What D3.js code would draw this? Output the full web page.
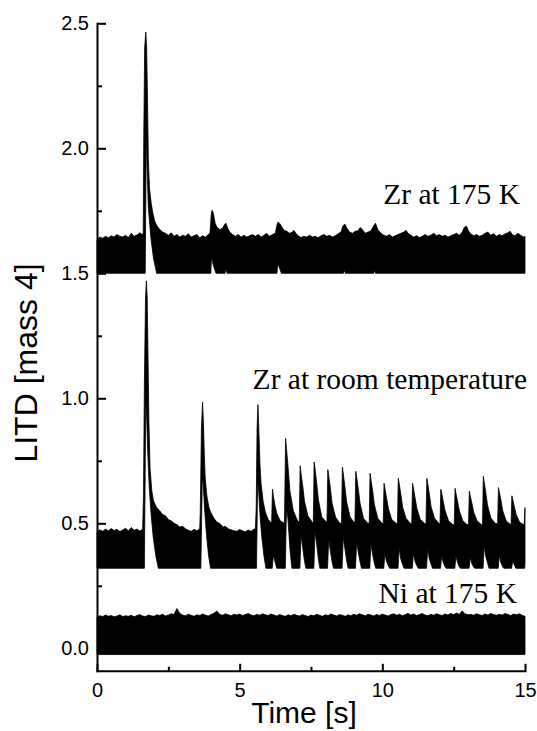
<!DOCTYPE html>
<html>
<head>
<meta charset="utf-8">
<script src="https://cdn.jsdelivr.net/npm/d3@7"></script>
<style>
  html, body { margin: 0; padding: 0; background: #fff; }
  svg { display: block; }
</style>
</head>
<body>
<svg id="chart" width="537" height="731"></svg>
<script>
// LITD signal at mass 4 versus time for three samples.
// Each trace is a dense, noisy signal; it is stored as the upper and lower edge
// of its noise band, as [time (s), signal] pairs.

// Zr at 175 K (offset by 1.5)
const zrColdTop = [
  [0,1.635],[0.1,1.645],[0.2,1.64],[0.3,1.648],[0.4,1.642],[0.5,1.65],[0.6,1.645],[0.7,1.655],[0.8,1.648],[0.9,1.645],
  [1.0,1.652],[1.1,1.643],[1.2,1.66],[1.3,1.648],[1.4,1.653],[1.5,1.662],[1.58,1.655],
  [1.62,1.66],[1.64,2.05],[1.67,2.4],[1.71,2.465],[1.74,2.40],[1.77,2.2],[1.80,1.95],[1.84,1.84],[1.90,1.78],
  [1.96,1.74],[2.02,1.71],[2.1,1.69],[2.2,1.675],[2.3,1.665],[2.4,1.66],[2.5,1.652],[2.6,1.662],[2.7,1.648],
  [2.8,1.655],[2.9,1.645],[3.0,1.652],[3.1,1.648],[3.2,1.658],[3.3,1.645],[3.4,1.65],[3.5,1.655],[3.6,1.642],
  [3.7,1.65],[3.8,1.645],[3.9,1.655],[3.96,1.66],
  [4.0,1.73],[4.03,1.752],[4.08,1.74],[4.14,1.70],[4.2,1.685],[4.3,1.675],[4.4,1.68],[4.47,1.695],[4.52,1.70],
  [4.58,1.68],[4.65,1.665],[4.75,1.655],[4.85,1.648],[4.95,1.655],[5.05,1.645],[5.15,1.652],[5.25,1.645],
  [5.35,1.65],[5.45,1.655],[5.55,1.648],[5.65,1.655],[5.75,1.645],[5.85,1.652],[5.95,1.66],[6.05,1.648],
  [6.15,1.655],[6.25,1.66],[6.3,1.69],[6.34,1.705],[6.4,1.70],[6.48,1.685],[6.56,1.672],[6.65,1.668],
  [6.75,1.66],[6.85,1.665],[6.9,1.672],[6.97,1.66],[7.05,1.65],[7.15,1.643],[7.25,1.648],[7.35,1.645],
  [7.45,1.652],[7.55,1.645],[7.65,1.648],[7.75,1.642],[7.85,1.65],[7.95,1.655],[8.05,1.648],[8.15,1.652],
  [8.25,1.645],[8.35,1.65],[8.45,1.658],[8.55,1.665],[8.62,1.69],[8.69,1.696],[8.76,1.68],[8.85,1.665],
  [8.95,1.66],[9.05,1.668],[9.15,1.67],[9.22,1.683],[9.3,1.675],[9.4,1.66],[9.5,1.665],[9.6,1.67],
  [9.7,1.69],[9.76,1.70],[9.84,1.675],[9.95,1.66],[10.05,1.652],[10.15,1.648],[10.25,1.655],[10.35,1.645],
  [10.45,1.65],[10.55,1.655],[10.65,1.66],[10.75,1.665],[10.83,1.672],[10.9,1.66],[11.0,1.652],[11.1,1.645],
  [11.2,1.65],[11.3,1.643],[11.4,1.648],[11.5,1.655],[11.6,1.648],[11.7,1.652],[11.8,1.66],[11.9,1.65],
  [12.0,1.655],[12.1,1.648],[12.2,1.652],[12.3,1.645],[12.4,1.65],[12.5,1.655],[12.6,1.66],[12.7,1.652],
  [12.8,1.665],[12.88,1.685],[12.95,1.688],[13.02,1.67],[13.1,1.658],[13.2,1.65],[13.3,1.655],[13.4,1.648],
  [13.5,1.652],[13.6,1.66],[13.7,1.665],[13.8,1.652],[13.9,1.658],[14.0,1.648],[14.1,1.655],[14.2,1.65],
  [14.3,1.658],[14.4,1.662],[14.48,1.668],[14.55,1.655],[14.65,1.65],[14.75,1.66],[14.85,1.652],[14.95,1.645],
  [15.0,1.648]
];
const zrColdBottom = [
  [0,1.5],[1.69,1.5],[1.73,2.1],[1.75,1.95],[1.80,1.76],[1.89,1.64],[1.98,1.56],[2.09,1.5],
  [3.99,1.5],[4.01,1.565],[4.08,1.53],[4.17,1.5],[4.49,1.5],[4.51,1.52],[4.56,1.5],
  [6.31,1.5],[6.33,1.54],[6.40,1.52],[6.46,1.5],[8.64,1.5],[8.66,1.515],[8.70,1.5],
  [9.70,1.5],[9.72,1.512],[9.76,1.5],[15,1.5]
];

// Zr at room temperature (offset by 0.3)
const zrRoomTop = [
  [0,0.465],[0.1,0.474],[0.2,0.468],[0.3,0.477],[0.4,0.47],[0.5,0.479],[0.6,0.471],[0.7,0.476],[0.8,0.467],
  [0.9,0.473],[1.0,0.48],[1.1,0.47],[1.2,0.483],[1.3,0.472],[1.4,0.477],[1.5,0.469],[1.6,0.476],
  [1.63,0.62],[1.66,1.05],[1.70,1.40],[1.73,1.47],[1.76,1.40],[1.79,1.15],[1.82,0.90],[1.86,0.72],[1.92,0.63],
  [1.98,0.59],[2.08,0.565],[2.2,0.55],[2.3,0.535],[2.4,0.53],[2.5,0.515],[2.6,0.51],[2.7,0.50],[2.8,0.495],
  [2.9,0.485],[3.0,0.488],[3.1,0.478],[3.2,0.472],[3.3,0.468],[3.4,0.476],[3.5,0.47],[3.6,0.477],
  [3.62,0.55],[3.66,0.88],[3.70,0.985],[3.73,0.90],[3.76,0.78],[3.79,0.685],[3.85,0.61],[3.92,0.565],
  [3.98,0.545],[4.1,0.52],[4.2,0.505],[4.3,0.50],[4.42,0.485],[4.5,0.488],[4.6,0.478],[4.7,0.474],[4.8,0.47],
  [4.9,0.468],[5.0,0.475],[5.1,0.47],[5.2,0.466],[5.3,0.473],[5.4,0.468],[5.5,0.476],[5.55,0.478],
  [5.58,0.56],[5.61,0.88],[5.64,0.975],[5.67,0.88],[5.71,0.74],[5.75,0.66],[5.82,0.59],[5.9,0.545],
  [6.0,0.515],[6.12,0.50],
  [6.15,0.636],[6.18,0.61],[6.24,0.57],[6.30,0.54],[6.42,0.51],[6.57,0.50],
  [6.61,0.84],[6.64,0.80],[6.70,0.72],[6.76,0.63],[6.88,0.55],[7.03,0.51],[7.09,0.505],
  [7.12,0.73],[7.15,0.70],[7.21,0.65],[7.27,0.59],[7.39,0.53],[7.54,0.505],[7.58,0.50],
  [7.61,0.745],[7.64,0.72],[7.70,0.66],[7.76,0.593],[7.88,0.525],[8.03,0.506],[8.06,0.505],
  [8.09,0.715],[8.12,0.69],[8.18,0.64],[8.24,0.58],[8.36,0.525],[8.51,0.50],[8.57,0.502],
  [8.60,0.725],[8.63,0.70],[8.69,0.645],[8.75,0.585],[8.87,0.525],[9.0,0.505],[9.04,0.503],
  [9.07,0.708],[9.10,0.685],[9.16,0.635],[9.22,0.58],[9.34,0.52],[9.49,0.50],[9.54,0.50],
  [9.57,0.70],[9.60,0.675],[9.66,0.63],[9.72,0.575],[9.84,0.52],[9.99,0.50],[10.03,0.498],
  [10.06,0.66],[10.09,0.64],[10.15,0.60],[10.21,0.56],[10.33,0.515],[10.48,0.50],[10.53,0.498],
  [10.56,0.68],[10.59,0.66],[10.65,0.615],[10.71,0.565],[10.83,0.52],[10.98,0.50],[11.03,0.498],
  [11.06,0.66],[11.09,0.64],[11.15,0.60],[11.21,0.56],[11.33,0.515],[11.48,0.50],[11.53,0.497],
  [11.56,0.68],[11.59,0.66],[11.65,0.615],[11.71,0.565],[11.83,0.52],[11.98,0.50],[12.02,0.497],
  [12.05,0.636],[12.08,0.62],[12.14,0.585],[12.20,0.55],[12.32,0.51],[12.47,0.495],[12.52,0.494],
  [12.55,0.64],[12.58,0.62],[12.64,0.585],[12.70,0.55],[12.82,0.51],[12.97,0.495],[13.02,0.494],
  [13.05,0.628],[13.08,0.61],[13.14,0.58],[13.20,0.545],[13.32,0.51],[13.47,0.495],[13.51,0.494],
  [13.54,0.688],[13.57,0.665],[13.63,0.62],[13.69,0.57],[13.81,0.52],[13.96,0.50],[14.04,0.497],
  [14.07,0.643],[14.10,0.625],[14.16,0.59],[14.22,0.55],[14.34,0.51],[14.49,0.495],[14.51,0.494],
  [14.54,0.61],[14.57,0.595],[14.63,0.565],[14.69,0.535],[14.81,0.505],[14.94,0.495],[14.97,0.495],
  [15.0,0.563]
];
const zrRoomBottom = [
  [0,0.32],[1.66,0.32],[1.71,0.99],[1.74,0.93],[1.78,0.78],[1.83,0.645],[1.90,0.53],[1.97,0.445],[2.06,0.37],[2.15,0.32],
  [3.64,0.32],[3.69,0.68],[3.72,0.66],[3.78,0.54],[3.84,0.45],[3.91,0.37],[3.98,0.32],
  [5.59,0.32],[5.63,0.66],[5.66,0.64],[5.72,0.52],[5.78,0.44],[5.85,0.37],[5.92,0.32],
  [6.14,0.32],[6.18,0.37],[6.23,0.35],[6.30,0.32],
  [6.60,0.32],[6.64,0.56],[6.69,0.52],[6.76,0.40],[6.83,0.32],
  [7.11,0.32],[7.15,0.45],[7.20,0.41],[7.27,0.35],[7.32,0.32],
  [7.60,0.32],[7.64,0.465],[7.69,0.425],[7.76,0.355],[7.81,0.32],
  [8.08,0.32],[8.12,0.435],[8.17,0.395],[8.24,0.345],[8.29,0.32],
  [8.59,0.32],[8.63,0.445],[8.68,0.405],[8.75,0.35],[8.80,0.32],
  [9.06,0.32],[9.10,0.428],[9.15,0.388],[9.22,0.345],[9.27,0.32],
  [9.56,0.32],[9.60,0.42],[9.65,0.38],[9.72,0.34],[9.77,0.32],
  [10.05,0.32],[10.09,0.38],[10.14,0.35],[10.21,0.33],[10.26,0.32],
  [10.55,0.32],[10.59,0.40],[10.64,0.36],[10.71,0.335],[10.76,0.32],
  [11.05,0.32],[11.09,0.38],[11.14,0.35],[11.21,0.33],[11.26,0.32],
  [11.55,0.32],[11.59,0.40],[11.64,0.36],[11.71,0.335],[11.76,0.32],
  [12.04,0.32],[12.08,0.37],[12.13,0.345],[12.20,0.325],[12.24,0.32],
  [12.54,0.32],[12.58,0.37],[12.63,0.345],[12.70,0.325],[12.74,0.32],
  [13.04,0.32],[13.08,0.365],[13.13,0.34],[13.20,0.325],[13.24,0.32],
  [13.53,0.32],[13.57,0.41],[13.62,0.37],[13.69,0.34],[13.74,0.32],
  [14.06,0.32],[14.10,0.37],[14.15,0.345],[14.22,0.325],[14.26,0.32],
  [14.53,0.32],[14.57,0.35],[14.62,0.335],[14.68,0.32],
  [14.99,0.32],[15.0,0.34]
];

// Ni at 175 K: upper edge sampled every 0.1 s from 0 to 15 s, flat lower edge
const niStep = 0.1;
const niTopValues = [
  0.125,0.130,0.127,0.133,0.128,0.131,0.126,0.129,0.134,0.127,0.130,
  0.128,0.132,0.126,0.131,0.135,0.129,0.127,0.133,0.130,0.128,
  0.134,0.131,0.136,0.129,0.133,0.138,0.135,0.159,0.140,0.133,
  0.130,0.136,0.132,0.128,0.134,0.131,0.137,0.133,0.129,0.135,
  0.140,0.149,0.136,0.132,0.138,0.134,0.130,0.136,0.133,0.137,
  0.131,0.135,0.139,0.133,0.130,0.136,0.132,0.138,0.134,0.131,
  0.137,0.133,0.129,0.135,0.131,0.128,0.134,0.130,0.136,0.132,
  0.129,0.135,0.131,0.127,0.133,0.130,0.136,0.132,0.128,0.134,
  0.131,0.137,0.133,0.129,0.135,0.132,0.128,0.134,0.130,0.136,
  0.132,0.138,0.134,0.130,0.136,0.133,0.129,0.135,0.131,0.137,
  0.133,0.129,0.135,0.138,0.132,0.136,0.130,0.134,0.140,0.133,
  0.137,0.131,0.135,0.139,0.133,0.130,0.136,0.132,0.138,0.134,
  0.131,0.137,0.133,0.139,0.135,0.141,0.136,0.149,0.138,0.134,
  0.136,0.132,0.138,0.134,0.131,0.137,0.133,0.139,0.135,0.132,
  0.136,0.133,0.139,0.135,0.131,0.137,0.134,0.138,0.132,0.128
];
const niBottom = [[0,-0.025],[15,-0.025]];

const traceLabels = ["Zr at 175 K", "Zr at room temperature", "Ni at 175 K"];
const xMajorTicks = [0, 5, 10, 15];
const xMinorTicks = [2.5, 7.5, 12.5];
const yMajorTicks = [0, 0.5, 1.0, 1.5, 2.0, 2.5];
const yMinorTicks = [0.25, 0.75, 1.25, 1.75, 2.25];
const xTitle = "Time [s]";
const yTitle = "LITD [mass 4]";

// ---------------------------------------------------------------------------
const svg = d3.select("#chart");
const x = d3.scaleLinear().domain([0, 15]).range([97, 525]);
const y = d3.scaleLinear().domain([-0.09, 2.5]).range([670.8, 23.3]);

const niTop = niTopValues.map((v, i) => [+(i * niStep).toFixed(2), v]);

const edge = d3.line().x(d => x(d[0])).y(d => y(d[1]));
function band(top, bottom) {
  return edge(top.concat(bottom.slice().reverse())) + "Z";
}

const traces = [
  { top: zrRoomTop, bottom: zrRoomBottom },
  { top: zrColdTop, bottom: zrColdBottom },
  { top: niTop, bottom: niBottom }
];
svg.append("g").selectAll("path").data(traces).join("path")
  .attr("d", d => band(d.top, d.bottom))
  .attr("fill", "#000")
  .attr("stroke", "#000")
  .attr("stroke-width", 0.8)
  .attr("stroke-linejoin", "round");

// Trace labels
const labelPos = [
  { x: 520, y: 204 },
  { x: 527, y: 389 },
  { x: 517, y: 603 }
];
svg.append("g").selectAll("text").data(traceLabels).join("text")
  .attr("x", (d, i) => labelPos[i].x)
  .attr("y", (d, i) => labelPos[i].y)
  .attr("text-anchor", "end")
  .attr("font-family", "'Liberation Serif', 'Times New Roman', serif")
  .attr("font-size", "29.5px")
  .attr("fill", "#000")
  .text(d => d);

// Axes (ticks point inward)
const sansFont = "'Liberation Sans', Arial, Helvetica, sans-serif";
function styleAxis(g) {
  g.selectAll(".domain").attr("stroke-width", 2).attr("stroke-linecap", "square");
  g.selectAll(".tick line").attr("stroke-width", 2);
  g.selectAll(".tick text").attr("font-family", sansFont).attr("font-size", "20px").attr("fill", "#000");
}

const yAxis = svg.append("g").attr("transform", "translate(97,0)")
  .call(d3.axisLeft(y).tickValues(yMajorTicks).tickFormat(d3.format(".1f"))
    .tickSize(-9).tickSizeOuter(0).tickPadding(8));
styleAxis(yAxis);
const yMinor = svg.append("g").attr("transform", "translate(97,0)")
  .call(d3.axisLeft(y).tickValues(yMinorTicks).tickFormat("").tickSize(-5).tickSizeOuter(0));
yMinor.select(".domain").remove();
yMinor.selectAll(".tick line").attr("stroke-width", 2);

const xAxis = svg.append("g").attr("transform", `translate(0,${y(-0.09)})`)
  .call(d3.axisBottom(x).tickValues(xMajorTicks).tickFormat(d3.format("d"))
    .tickSize(-7).tickSizeOuter(0).tickPadding(12));
styleAxis(xAxis);
const xMinor = svg.append("g").attr("transform", `translate(0,${y(-0.09)})`)
  .call(d3.axisBottom(x).tickValues(xMinorTicks).tickFormat("").tickSize(-4).tickSizeOuter(0));
xMinor.select(".domain").remove();
xMinor.selectAll(".tick line").attr("stroke-width", 2);

// Axis titles
svg.append("text")
  .attr("x", 304).attr("y", 723)
  .attr("text-anchor", "middle")
  .attr("font-family", sansFont).attr("font-size", "30px").attr("fill", "#000")
  .text(xTitle);
svg.append("text")
  .attr("transform", "translate(37,363) rotate(-90)")
  .attr("text-anchor", "middle")
  .attr("font-family", sansFont).attr("font-size", "32px").attr("fill", "#000")
  .text(yTitle);
</script>
</body>
</html>
